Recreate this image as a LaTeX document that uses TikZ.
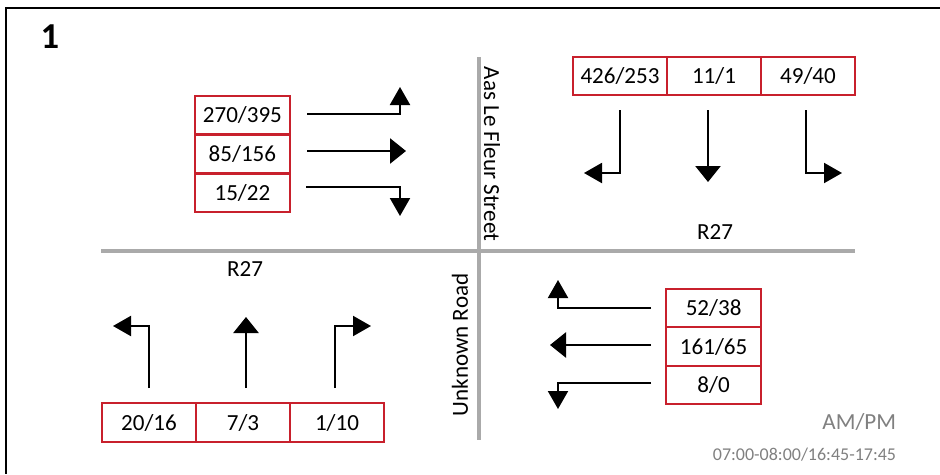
\documentclass[tikz,border=0pt]{standalone}
\usepackage{fontspec}
\setmainfont{Carlito}
\usepackage{xcolor}
\usepackage{tikz}
\usetikzlibrary{arrows, arrows.meta, positioning}

\definecolor{boxred}{RGB}{200,32,44}
\definecolor{roadgrey}{RGB}{170,170,170}
\definecolor{notegrey}{RGB}{128,128,128}

\tikzset{
  cnt/.style={draw=boxred, rectangle, line width=0.05cm, inner sep=0pt, outer sep=0pt,
              minimum width=2.36cm, minimum height=0.97cm, font=\fontsize{16.4}{19}\selectfont},
  road/.style={roadgrey, line width=0.1cm},
  thru/.style={line width=0.05cm, -{Triangle[width=0.63cm, length=0.4cm]}},
  turn/.style={line width=0.05cm, -{Triangle[width=0.5cm, length=0.45cm]}},
  lbl/.style={font=\fontsize{16.4}{19}\selectfont}
}

\begin{document}
\begin{tikzpicture}
\useasboundingbox (0,0) rectangle (23.5,11.85);

\draw[line width=0.05cm] (23.5,11.65)--(0.15,11.65)--(0.15,0);

\node[font=\bfseries\fontsize{26}{30}\selectfont] (num) at (1.25,10.925) {1};

% roads
\draw[road] (2.525,5.575)--(21.375,5.575);
\draw[road] (11.975,10.425)--(11.975,0.85);

\node[lbl, rotate=-90] (aas) at (12.3,8.0) {Aas Le Fleur Street};
\node[lbl, rotate=90] (unk) at (11.5,3.225) {Unknown Road};
\node[lbl] (rne) at (17.875,6.05) {R27};
\node[lbl] (rsw) at (6.125,5.125) {R27};

% eastbound
\node[cnt] (el) at (6.06,8.975) {270/395};
\node[cnt] (et) at (6.06,8.0) {85/156};
\node[cnt] (er) at (6.06,7.025) {15/22};
\draw[turn] (7.675,9.0)--(10.0,9.0)--(10.0,9.675);
\draw[thru] (7.675,8.075)--(10.15,8.075);
\draw[turn] (7.65,7.175)--(10.0,7.175)--(10.0,6.45);

% southbound
\node[cnt, minimum height=0.95cm] (sr) at (15.5,9.95) {426/253};
\node[cnt, minimum height=0.95cm] (st) at (17.85,9.95) {11/1};
\node[cnt, minimum height=0.95cm] (sl) at (20.2,9.95) {49/40};
\draw[turn] (15.5,9.1)--(15.5,7.525)--(14.6,7.525);
\draw[thru] (17.7,9.1)--(17.7,7.3);
\draw[turn] (20.15,9.1)--(20.15,7.525)--(21.05,7.525);

% northbound
\node[cnt, minimum width=2.35cm] (nl) at (3.725,1.2875) {20/16};
\node[cnt, minimum width=2.35cm] (nt) at (6.075,1.2875) {7/3};
\node[cnt, minimum width=2.35cm] (nr) at (8.425,1.2875) {1/10};
\draw[turn] (3.725,2.15)--(3.725,3.7)--(2.825,3.7);
\draw[thru] (6.15,2.15)--(6.15,3.925);
\draw[turn] (8.375,2.15)--(8.375,3.7)--(9.275,3.7);

% westbound
\node[cnt, minimum height=0.9625cm] (wr) at (17.84,4.15) {52/38};
\node[cnt, minimum height=0.9625cm] (wt) at (17.84,3.1875) {161/65};
\node[cnt, minimum height=0.9625cm] (wl) at (17.84,2.225) {8/0};
\draw[turn] (16.275,4.15)--(13.95,4.15)--(13.95,4.85);
\draw[thru] (16.275,3.225)--(13.75,3.225);
\draw[turn] (16.275,2.275)--(13.95,2.275)--(13.95,1.625);

\node[lbl, notegrey, anchor=east] (ampm) at (22.525,1.3) {AM/PM};
\node[notegrey, anchor=east, font=\fontsize{12.8}{15}\selectfont] (hrs) at (22.525,0.475) {07:00-08:00/16:45-17:45};

\end{tikzpicture}
\end{document}
